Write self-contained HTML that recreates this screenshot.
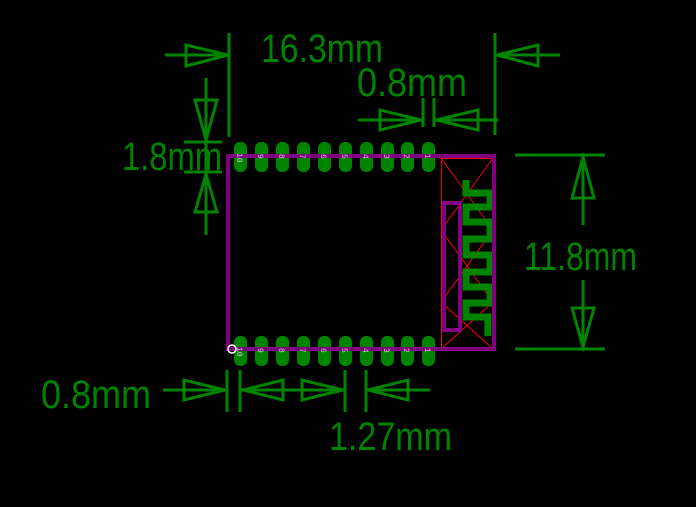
<!DOCTYPE html>
<html><head><style>html,body{margin:0;padding:0;background:#000;}svg{display:block}</style></head>
<body>
<svg width="696" height="507" viewBox="0 0 696 507" xmlns="http://www.w3.org/2000/svg">
<rect width="696" height="507" fill="#000"/>
<g stroke="#ff0000" stroke-width="1" fill="none">
<rect x="441.5" y="158.5" width="52" height="190"/>
<line x1="441" y1="158" x2="493" y2="230"/><line x1="493" y1="158" x2="441" y2="230"/>
<line x1="441" y1="230" x2="493" y2="302"/><line x1="493" y1="230" x2="441" y2="302"/>
<line x1="441" y1="302" x2="493" y2="349"/><line x1="493" y1="302" x2="441" y2="349"/>
</g>
<g fill="#008400">
<g id="pads">
<rect x="234" y="142" width="13" height="30" rx="6"/><rect x="255" y="142" width="13" height="30" rx="6"/><rect x="276" y="142" width="13" height="30" rx="6"/><rect x="297" y="142" width="13" height="30" rx="6"/><rect x="318" y="142" width="13" height="30" rx="6"/><rect x="339" y="142" width="13" height="30" rx="6"/><rect x="360" y="142" width="13" height="30" rx="6"/><rect x="381" y="142" width="13" height="30" rx="6"/><rect x="401" y="142" width="13" height="30" rx="6"/><rect x="422" y="142" width="13" height="30" rx="6"/>
</g>
<use href="#pads" y="194"/>
</g>
<path d="M466,180 V193 H490 V207 H466 V222 H490 V239 H466 V255 H490 V272 H466 V287 H490 V303 H466 V317 H488 V336" stroke="#008400" stroke-width="7" fill="none" stroke-linejoin="miter"/>
<g stroke="#800080" stroke-width="4" fill="none">
<rect x="228" y="156" width="266" height="193"/>
<rect x="444" y="203" width="16" height="127"/>
</g>
<g fill="#cccccc" font-family="Liberation Mono, monospace" font-size="8">
<g id="nums"><text x="236" y="160" transform="rotate(90 240 157)">10</text><text x="258" y="160" transform="rotate(90 261 157)">9</text><text x="279" y="160" transform="rotate(90 282 157)">8</text><text x="300" y="160" transform="rotate(90 303 157)">7</text><text x="321" y="160" transform="rotate(90 324 157)">6</text><text x="342" y="160" transform="rotate(90 345 157)">5</text><text x="363" y="160" transform="rotate(90 366 157)">4</text><text x="384" y="160" transform="rotate(90 387 157)">3</text><text x="404" y="160" transform="rotate(90 407 157)">2</text><text x="425" y="160" transform="rotate(90 428 157)">1</text></g>
<use href="#nums" y="194"/>
</g>
<circle cx="232" cy="349" r="4" fill="none" stroke="#fff" stroke-width="1.5"/>
<g stroke="#008400" stroke-width="3" fill="none">
<!-- top 16.3 -->
<line x1="229" y1="33" x2="229" y2="137"/><line x1="495" y1="33" x2="495" y2="135"/>
<line x1="165" y1="55" x2="229" y2="55"/><polygon points="186,45 186,66 228,55"/>
<line x1="497" y1="55" x2="560" y2="55"/><polygon points="538,45 538,66 497,55"/>
<!-- 0.8 top -->
<line x1="423" y1="98" x2="423" y2="127"/><line x1="434" y1="98" x2="434" y2="127"/>
<line x1="358" y1="120" x2="423" y2="120"/><polygon points="380,110 380,130 421,120"/>
<line x1="434" y1="120" x2="498" y2="120"/><polygon points="478,110 478,130 436,120"/>
<!-- 1.8 -->
<line x1="206" y1="78" x2="206" y2="235"/>
<line x1="184" y1="142" x2="222" y2="142"/><line x1="184" y1="172" x2="222" y2="172"/>
<polygon points="195,100 217,100 206,140"/><polygon points="195,212 217,212 206,174"/>
<!-- 11.8 -->
<line x1="515" y1="155" x2="605" y2="155"/><line x1="515" y1="349" x2="605" y2="349"/>
<line x1="583" y1="157" x2="583" y2="225"/><line x1="583" y1="280" x2="583" y2="347"/>
<polygon points="572,198 594,198 583,157"/><polygon points="572,308 594,308 583,347"/>
<!-- bottom -->
<line x1="227" y1="370" x2="227" y2="412"/><line x1="240" y1="370" x2="240" y2="412"/>
<line x1="345" y1="370" x2="345" y2="412"/><line x1="366" y1="370" x2="366" y2="412"/>
<line x1="163" y1="390" x2="226" y2="390"/><polygon points="184,380 184,400 225,390"/>
<line x1="241" y1="390" x2="344" y2="390"/><polygon points="283,380 283,400 243,390"/><polygon points="302,380 302,400 343,390"/>
<line x1="367" y1="390" x2="430" y2="390"/><polygon points="408,380 408,400 368,390"/>
</g>
<g fill="#008400" font-family="Liberation Sans, sans-serif" font-size="40" lengthAdjust="spacingAndGlyphs">
<text x="261" y="62" textLength="122" lengthAdjust="spacingAndGlyphs">16.3mm</text>
<text x="357" y="96" textLength="110" lengthAdjust="spacingAndGlyphs">0.8mm</text>
<text x="122" y="170" textLength="100" lengthAdjust="spacingAndGlyphs">1.8mm</text>
<text x="524" y="270" textLength="113" lengthAdjust="spacingAndGlyphs">11.8mm</text>
<text x="41" y="408" textLength="110" lengthAdjust="spacingAndGlyphs">0.8mm</text>
<text x="329" y="450" textLength="123" lengthAdjust="spacingAndGlyphs">1.27mm</text>
</g>
</svg>
</body></html>
